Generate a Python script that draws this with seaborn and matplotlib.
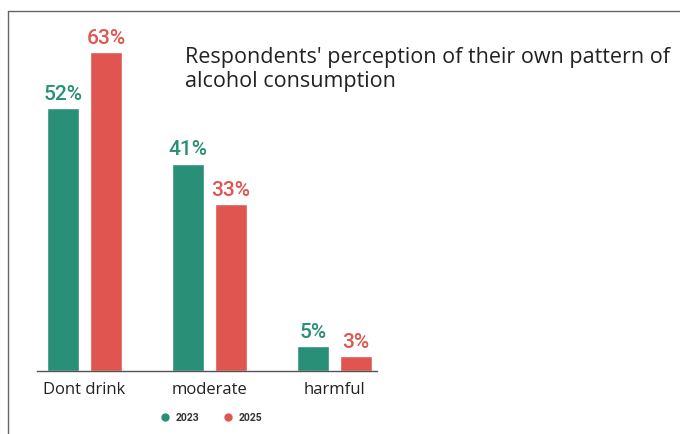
import numpy as np
import pandas as pd
import matplotlib
matplotlib.use('Agg')
import matplotlib.pyplot as plt
from matplotlib.lines import Line2D
import seaborn as sns

categories = ['Dont drink', 'moderate', 'harmful']
years = ['2023', '2025']
values_2023 = [52, 41, 5]
values_2025 = [63, 33, 3]
title = "Respondents' perception of their own pattern of\nalcohol consumption"

colors = {'2023': '#2a8f77', '2025': '#e0554f'}
narrow = ['Roboto', 'DejaVu Sans']

df = pd.DataFrame({
    'category': categories * 2,
    'year': [years[0]] * 3 + [years[1]] * 3,
    'value': values_2023 + values_2025,
})

sns.set_style('white')
plt.rcParams['font.family'] = ['Open Sans', 'DejaVu Sans']

fig = plt.figure(figsize=(6.8, 4.34), dpi=100)
ax = fig.add_axes([37 / 680, 1 - 371 / 434, 340 / 680, 351 / 434])

sns.barplot(data=df, x='category', y='value', hue='year', palette=colors,
            width=0.69, gap=0.26, ax=ax, legend=False, saturation=1)

for cont, yr in zip(ax.containers, years):
    ax.bar_label(cont, labels=[f'{int(v)}%' for v in cont.datavalues],
                 padding=3, fontsize=15, color=colors[yr], family=narrow,
                 fontweight='medium')

ax.set_xlim(-0.38, 2.34)
ax.set_ylim(0, 69.4)
ax.set_xlabel('')
ax.set_ylabel('')
ax.set_yticks([])
for s in ['top', 'right', 'left']:
    ax.spines[s].set_visible(False)
ax.spines['bottom'].set_color('#555555')
ax.spines['bottom'].set_linewidth(1)
ax.tick_params(axis='x', length=0, pad=8, labelsize=12, labelcolor='#222222')

fig.text(185 / 680, 1 - 87 / 434, title, fontsize=15.5, color='#222222',
         ha='left', va='baseline', linespacing=1.18)

handles = [Line2D([], [], marker='o', linestyle='', markersize=5,
                  color=colors[y]) for y in years]
fig.legend(handles, years, loc='center', bbox_to_anchor=(211 / 680, 1 - 418 / 434),
           ncol=2, frameon=False, handlelength=1, handletextpad=0.45,
           columnspacing=2.3,
           prop={'family': narrow, 'size': 7.5, 'weight': 'bold'},
           labelcolor='#333333')

# frame lines on top and left edge
fig.add_artist(Line2D([8 / 680, 1], [1 - 11 / 434, 1 - 11 / 434],
                      transform=fig.transFigure, color='#666666', lw=1))
fig.add_artist(Line2D([8 / 680, 8 / 680], [0, 1 - 11 / 434],
                      transform=fig.transFigure, color='#666666', lw=1))

fig.savefig('out.png', dpi=100)
